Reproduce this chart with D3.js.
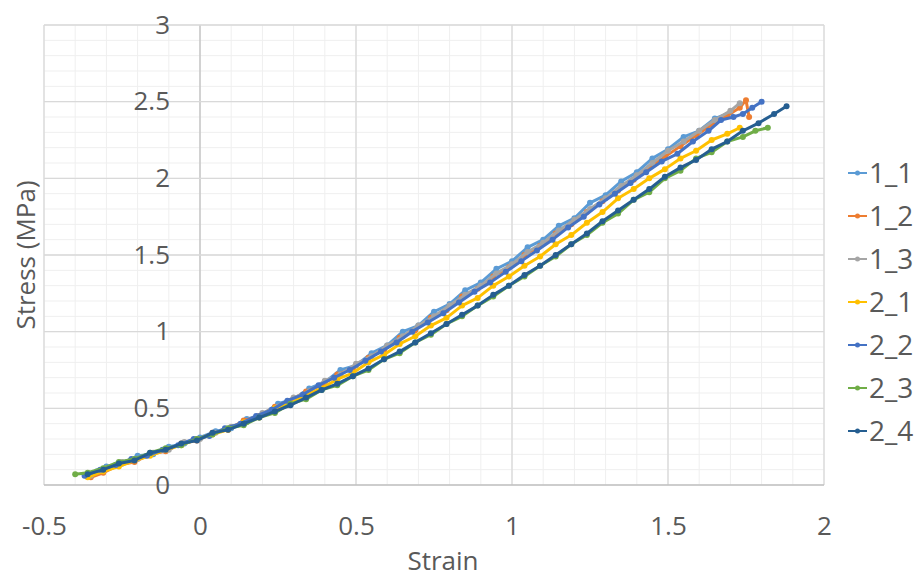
<!DOCTYPE html>
<html>
<head>
<meta charset="utf-8">
<script src="https://cdn.jsdelivr.net/npm/d3@7"></script>
<style>
  body { margin: 0; background: #fff; }
  svg text { font-family: "Open Sans", "Noto Sans", sans-serif; fill: #595959; }
</style>
</head>
<body>
<svg width="919" height="577"></svg>
<script>
// series names and colours (Excel default palette)
const seriesNames = ["1_1", "1_2", "1_3", "2_1", "2_2", "2_3", "2_4"];
const seriesColors = ["#5B9BD5", "#ED7D31", "#A5A5A5", "#FFC000", "#4472C4", "#70AD47", "#255E91"];

// [strain, stress]
const s1_1 = [[-0.36,0.07],[-0.33,0.09],[-0.30,0.12],[-0.25,0.14],[-0.20,0.19],[-0.15,0.20],[-0.10,0.25],[-0.05,0.27],[0.00,0.31],[0.05,0.35],[0.10,0.37],[0.15,0.43],[0.20,0.46],[0.25,0.53],[0.30,0.56],[0.35,0.63],[0.40,0.67],[0.45,0.75],[0.50,0.78],[0.55,0.86],[0.60,0.91],[0.65,1.00],[0.70,1.04],[0.75,1.13],[0.80,1.18],[0.85,1.27],[0.90,1.32],[0.95,1.41],[1.00,1.46],[1.05,1.55],[1.10,1.60],[1.15,1.69],[1.20,1.74],[1.25,1.84],[1.30,1.89],[1.35,1.98],[1.40,2.04],[1.45,2.13],[1.50,2.19],[1.55,2.27],[1.60,2.31],[1.65,2.39],[1.70,2.43]];
const s1_2 = [[-0.35,0.05],[-0.31,0.08],[-0.26,0.13],[-0.21,0.15],[-0.16,0.20],[-0.11,0.22],[-0.06,0.27],[-0.01,0.29],[0.04,0.34],[0.09,0.36],[0.14,0.42],[0.19,0.45],[0.24,0.51],[0.29,0.55],[0.34,0.61],[0.39,0.65],[0.44,0.72],[0.49,0.76],[0.54,0.83],[0.59,0.88],[0.64,0.96],[0.69,1.01],[0.74,1.09],[0.79,1.14],[0.84,1.23],[0.89,1.28],[0.94,1.36],[0.99,1.42],[1.04,1.50],[1.09,1.56],[1.14,1.64],[1.19,1.70],[1.24,1.78],[1.29,1.85],[1.34,1.92],[1.39,1.99],[1.44,2.07],[1.49,2.14],[1.54,2.21],[1.59,2.28],[1.64,2.35],[1.69,2.41],[1.73,2.46],[1.75,2.51],[1.76,2.40]];
const s1_3 = [[-0.35,0.06],[-0.30,0.11],[-0.25,0.15],[-0.20,0.17],[-0.15,0.21],[-0.10,0.23],[-0.05,0.28],[0.00,0.30],[0.05,0.34],[0.10,0.38],[0.15,0.41],[0.20,0.47],[0.25,0.51],[0.30,0.57],[0.35,0.61],[0.40,0.68],[0.45,0.72],[0.50,0.79],[0.55,0.84],[0.60,0.91],[0.65,0.97],[0.70,1.04],[0.75,1.10],[0.80,1.17],[0.85,1.24],[0.90,1.30],[0.95,1.38],[1.00,1.44],[1.05,1.52],[1.10,1.58],[1.15,1.66],[1.20,1.73],[1.25,1.80],[1.30,1.87],[1.35,1.95],[1.40,2.02],[1.45,2.10],[1.50,2.18],[1.55,2.24],[1.60,2.31],[1.65,2.38],[1.70,2.44],[1.73,2.49]];
const s2_1 = [[-0.36,0.05],[-0.31,0.09],[-0.26,0.12],[-0.21,0.16],[-0.16,0.19],[-0.11,0.23],[-0.06,0.26],[-0.01,0.30],[0.04,0.33],[0.09,0.36],[0.14,0.41],[0.19,0.44],[0.24,0.50],[0.29,0.53],[0.34,0.59],[0.39,0.63],[0.44,0.69],[0.49,0.73],[0.54,0.80],[0.59,0.85],[0.64,0.92],[0.69,0.97],[0.74,1.04],[0.79,1.09],[0.84,1.17],[0.89,1.22],[0.94,1.30],[0.99,1.36],[1.04,1.43],[1.09,1.49],[1.14,1.57],[1.19,1.63],[1.24,1.71],[1.29,1.78],[1.34,1.87],[1.39,1.93],[1.44,2.00],[1.49,2.06],[1.54,2.13],[1.59,2.18],[1.64,2.25],[1.69,2.29],[1.73,2.33]];
const s2_2 = [[-0.37,0.06],[-0.32,0.10],[-0.27,0.13],[-0.22,0.17],[-0.17,0.19],[-0.12,0.23],[-0.07,0.26],[-0.02,0.30],[0.03,0.32],[0.08,0.37],[0.13,0.40],[0.18,0.45],[0.23,0.49],[0.28,0.55],[0.33,0.59],[0.38,0.65],[0.43,0.70],[0.48,0.75],[0.53,0.81],[0.58,0.87],[0.63,0.93],[0.68,1.00],[0.73,1.06],[0.78,1.12],[0.83,1.19],[0.88,1.26],[0.93,1.32],[0.98,1.39],[1.03,1.46],[1.08,1.53],[1.13,1.60],[1.18,1.68],[1.23,1.75],[1.28,1.83],[1.33,1.90],[1.38,1.97],[1.43,2.04],[1.48,2.11],[1.53,2.16],[1.58,2.24],[1.63,2.31],[1.67,2.38],[1.71,2.40],[1.74,2.42],[1.77,2.46],[1.80,2.50]];
const s2_3 = [[-0.40,0.07],[-0.36,0.08],[-0.31,0.11],[-0.26,0.15],[-0.21,0.17],[-0.16,0.21],[-0.11,0.24],[-0.06,0.26],[-0.01,0.30],[0.04,0.33],[0.09,0.37],[0.14,0.39],[0.19,0.44],[0.24,0.47],[0.29,0.53],[0.34,0.56],[0.39,0.62],[0.44,0.65],[0.49,0.71],[0.54,0.75],[0.59,0.82],[0.64,0.86],[0.69,0.93],[0.74,0.98],[0.79,1.05],[0.84,1.10],[0.89,1.17],[0.94,1.23],[0.99,1.30],[1.04,1.36],[1.09,1.43],[1.14,1.49],[1.19,1.57],[1.24,1.63],[1.29,1.71],[1.34,1.77],[1.39,1.86],[1.44,1.91],[1.49,2.00],[1.54,2.05],[1.59,2.13],[1.64,2.17],[1.69,2.24],[1.74,2.27],[1.78,2.31],[1.82,2.33]];
const s2_4 = [[-0.36,0.07],[-0.31,0.10],[-0.26,0.14],[-0.21,0.16],[-0.16,0.21],[-0.11,0.23],[-0.06,0.27],[-0.01,0.29],[0.04,0.34],[0.09,0.36],[0.14,0.40],[0.19,0.44],[0.24,0.48],[0.29,0.52],[0.34,0.57],[0.39,0.62],[0.44,0.66],[0.49,0.71],[0.54,0.76],[0.59,0.82],[0.64,0.87],[0.69,0.93],[0.74,0.99],[0.79,1.05],[0.84,1.11],[0.89,1.17],[0.94,1.24],[0.99,1.30],[1.04,1.37],[1.09,1.43],[1.14,1.50],[1.19,1.57],[1.24,1.64],[1.29,1.72],[1.34,1.79],[1.39,1.86],[1.44,1.93],[1.49,2.01],[1.54,2.07],[1.59,2.12],[1.64,2.19],[1.69,2.24],[1.74,2.31],[1.79,2.36],[1.84,2.42],[1.88,2.47]];

const xTicks = [-0.5, 0, 0.5, 1, 1.5, 2];
const yTicks = [0, 0.5, 1, 1.5, 2, 2.5, 3];

const allSeries = [s1_1, s1_2, s1_3, s2_1, s2_2, s2_3, s2_4].map((pts, i) => ({
    name: seriesNames[i], color: seriesColors[i], points: pts
}));

const svg = d3.select("svg");

const x = d3.scaleLinear().domain([-0.5, 2]).range([44, 824]);
const y = d3.scaleLinear().domain([0, 3]).range([485, 25]);

// minor gridlines
const grid = svg.append("g");
grid.selectAll(".minor-x")
    .data(x.ticks(25))
    .enter().append("line")
    .attr("x1", d => x(d)).attr("x2", d => x(d))
    .attr("y1", y(0)).attr("y2", y(3))
    .attr("stroke", "#EFEFEF").attr("stroke-width", 1);
grid.selectAll(".minor-y")
    .data(y.ticks(30))
    .enter().append("line")
    .attr("x1", x(-0.5)).attr("x2", x(2))
    .attr("y1", d => y(d)).attr("y2", d => y(d))
    .attr("stroke", "#EFEFEF").attr("stroke-width", 1);

// major gridlines
grid.selectAll(".major-x")
    .data(xTicks)
    .enter().append("line")
    .attr("x1", d => x(d)).attr("x2", d => x(d))
    .attr("y1", y(0)).attr("y2", y(3))
    .attr("stroke", d => d === 0 ? "#BFBFBF" : "#D9D9D9").attr("stroke-width", 1.3);
grid.selectAll(".major-y")
    .data(yTicks)
    .enter().append("line")
    .attr("x1", x(-0.5)).attr("x2", x(2))
    .attr("y1", d => y(d)).attr("y2", d => y(d))
    .attr("stroke", d => d === 0 ? "#BFBFBF" : "#D9D9D9").attr("stroke-width", 1.3);

// axes: labels only, the lines come from the grid
const yAxis = svg.append("g")
    .attr("transform", `translate(${x(0)},0)`)
    .call(d3.axisLeft(y).tickValues(yTicks).tickSize(0).tickPadding(30).tickFormat(d => d));
const xAxis = svg.append("g")
    .attr("transform", `translate(0,${y(0)})`)
    .call(d3.axisBottom(x).tickValues(xTicks).tickSize(0).tickPadding(32).tickFormat(d => d));
[xAxis, yAxis].forEach(a => {
    a.select(".domain").remove();
    a.selectAll("text").attr("font-size", 26).attr("fill", "#595959")
        .style("font-family", "'Open Sans', sans-serif");
});

// series lines + markers
const line = d3.line().x(d => x(d[0])).y(d => y(d[1]));
const seriesG = svg.append("g").selectAll("g")
    .data(allSeries)
    .enter().append("g");
seriesG.append("path")
    .attr("d", d => line(d.points))
    .attr("fill", "none")
    .attr("stroke", d => d.color)
    .attr("stroke-width", 3)
    .attr("stroke-linejoin", "round");
seriesG.selectAll("circle")
    .data(d => d.points.map(p => ({ p, color: d.color })))
    .enter().append("circle")
    .attr("cx", d => x(d.p[0]))
    .attr("cy", d => y(d.p[1]))
    .attr("r", 3)
    .attr("fill", d => d.color);

// axis titles
svg.append("text")
    .attr("x", 443).attr("y", 570)
    .attr("text-anchor", "middle")
    .attr("font-size", 26)
    .text("Strain");
svg.append("text")
    .attr("transform", "translate(35,255) rotate(-90)")
    .attr("text-anchor", "middle")
    .attr("font-size", 26)
    .text("Stress (MPa)");

// legend
const legend = svg.append("g").selectAll("g")
    .data(allSeries)
    .enter().append("g")
    .attr("transform", (d, i) => `translate(848,${173 + i * 43})`);
legend.append("line")
    .attr("x1", 0).attr("x2", 19)
    .attr("stroke", d => d.color).attr("stroke-width", 2);
legend.append("circle")
    .attr("cx", 9.5).attr("r", 2.5)
    .attr("fill", d => d.color);
legend.append("text")
    .attr("x", 21).attr("dy", "0.36em")
    .attr("font-size", 28)
    .text(d => d.name);
</script>
</body>
</html>
